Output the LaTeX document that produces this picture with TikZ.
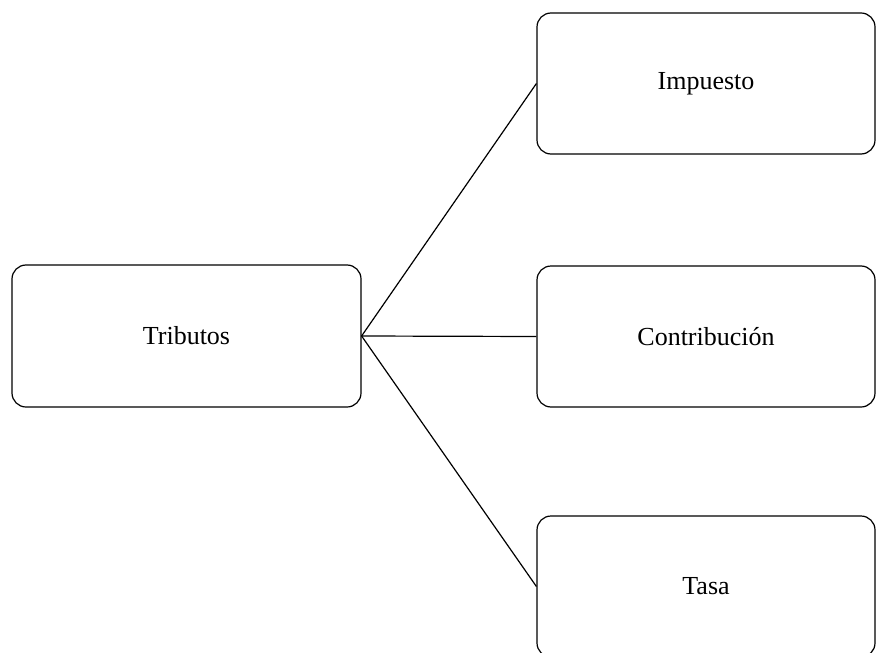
\documentclass[tikz,border=0pt]{standalone}
\usepackage{fontspec}
\setmainfont{Liberation Serif}
\tikzset{
	caja/.style={draw, rounded corners=7pt, line width=0.6pt, inner sep=0pt,
		minimum width=169pt, minimum height=70.5pt, font=\fontsize{13}{15}\selectfont},
	linea/.style={-, line width=0.6pt}
}
\begin{document}
\begin{tikzpicture}[x=0.5pt,y=-0.5pt]
		\useasboundingbox (0,0) rectangle (876,652);

		\node[caja, minimum width=174.5pt, minimum height=71pt] (trib) at (186.5,336) {Tributos};

		\node[caja] (imp) at (706,83.5) {Impuesto};
		\node[caja] (con) at (706,336.5) {Contribución};
		\node[caja] (tasa) at (706,586.5) {Tasa};

		\draw[linea] (trib.east) -- (imp.west);
		\draw[linea] (trib.east) -- (con.west);
		\draw[linea] (trib.east) -- (tasa.west);
	\end{tikzpicture}
\end{document}
